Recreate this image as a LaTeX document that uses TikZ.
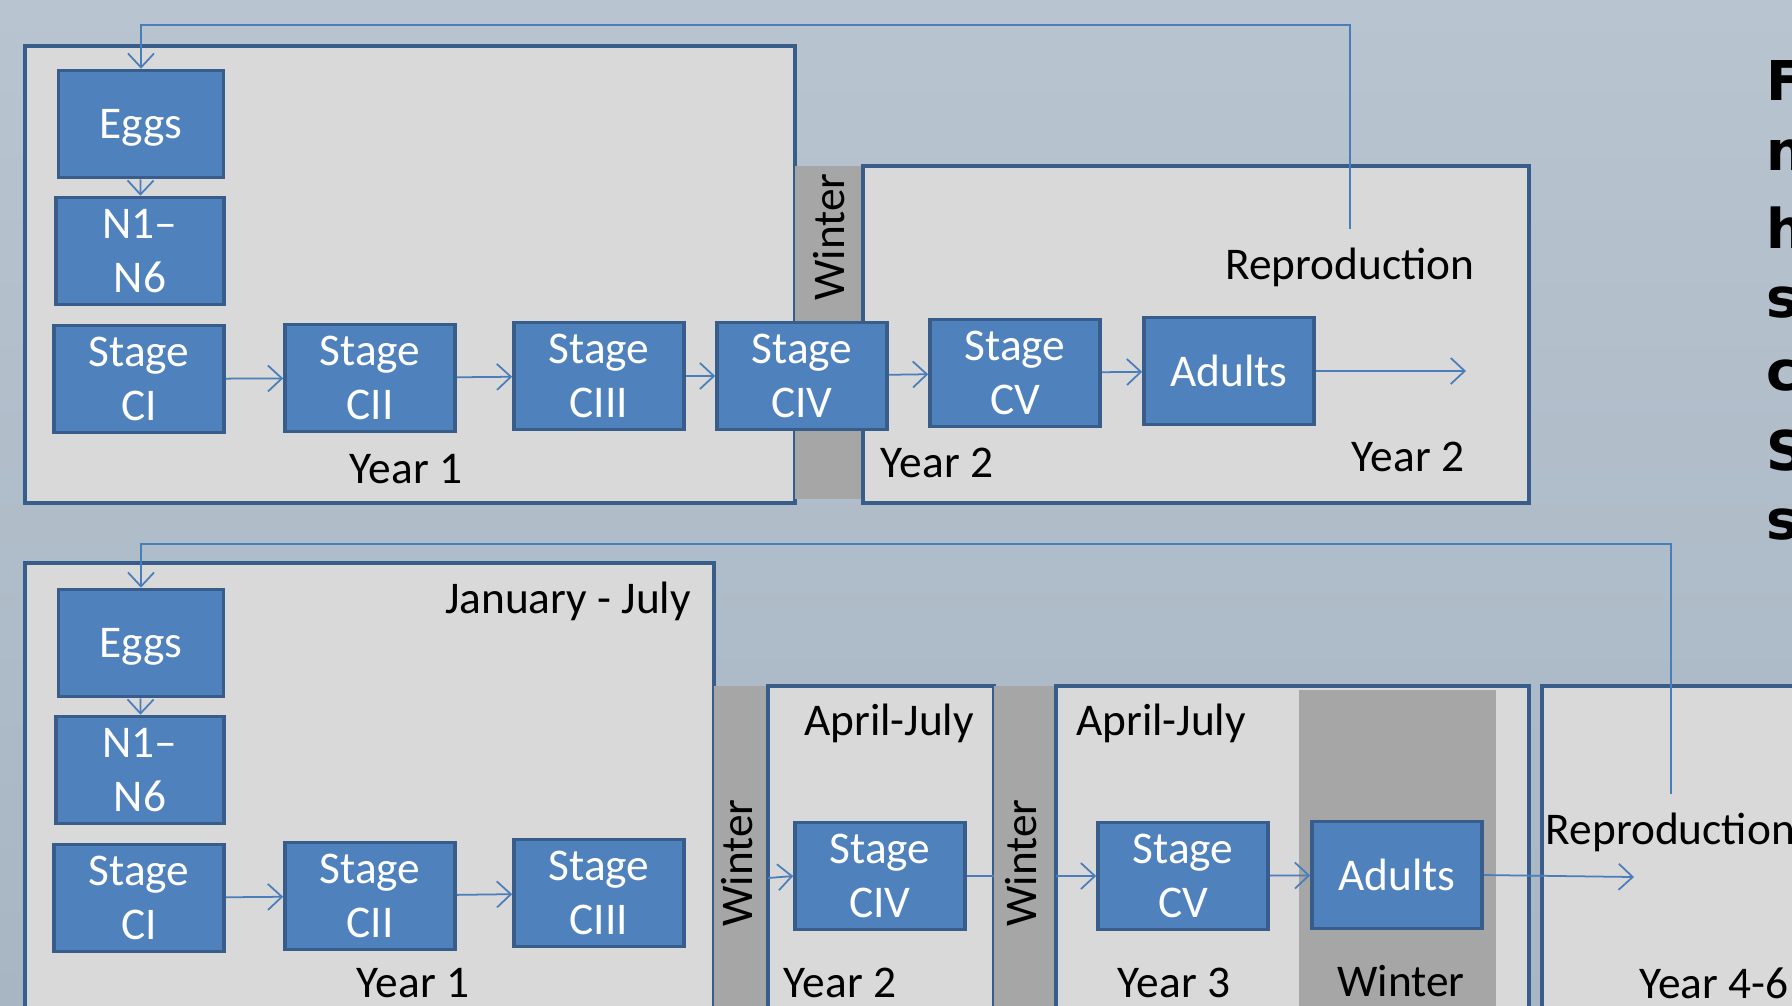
\documentclass[tikz,border=0pt]{standalone}
\usepackage{fontspec}
\setmainfont{Carlito}
\newfontfamily\sidefont{DejaVu Sans}
\usetikzlibrary{arrows.meta}
\definecolor{stageblue}{HTML}{4F81BD}
\definecolor{stageedge}{HTML}{385D8A}
\definecolor{panelgrey}{HTML}{D9D9D9}
\definecolor{wintergrey}{HTML}{A6A6A6}
\definecolor{linkblue}{HTML}{4A7EBB}
\definecolor{skytop}{HTML}{B8C4CF}
\definecolor{skybot}{HTML}{A8B6C4}
\newcommand\boxfont{\fontsize{12.9}{15.4}\selectfont}

\begin{document}
\begin{tikzpicture}[x=0.01cm, y=-0.01cm,
  stagebox/.style={draw=stageedge, line width=1pt, fill=stageblue, text=white,
                   minimum width=1.7cm, minimum height=1.07cm, align=center,
                   inner sep=0pt, font=\boxfont},
  panel/.style={draw=stageedge, line width=1.1pt, fill=panelgrey},
  winterbar/.style={fill=wintergrey},
  lbl/.style={font=\boxfont, inner sep=0pt},
  side/.style={font=\sidefont\bfseries\fontsize{15.6}{18}\selectfont, inner sep=0pt, anchor=west},
  flow/.style={-{Straight Barb[length=1.4mm,width=2.6mm]}, draw=linkblue, line width=0.5pt},
  link/.style={draw=linkblue, line width=0.5pt},
]
  % background
  \fill[top color=skytop, bottom color=skybot] (0,0) rectangle (1792,1005);
  \useasboundingbox (0,0) rectangle (1792,1005);
  \clip (0,0) rectangle (1792,1005);

  % upper scheme: panels
  \draw[panel] (25,46) rectangle (795,503);
  \fill[winterbar] (795,166) rectangle (863,499);
  \draw[panel] (863,166) rectangle (1529,503);

  % lower scheme: panels
  \draw[panel] (25,563) rectangle (714,1030);
  \fill[winterbar] (714,686) rectangle (768,1030);
  \draw[panel] (768,686) rectangle (994,1030);
  \fill[winterbar] (994,686) rectangle (1056,1030);
  \draw[panel] (1056,686) rectangle (1529,1030);
  \fill[winterbar] (1299,690) rectangle (1496,1030);
  \draw[panel] (1542,686) rectangle (1850,1030);

  % upper scheme: stages
  \node[stagebox, minimum width=1.65cm, text depth=0pt] (eggsA) at (141,124) {Eggs};
  \node[stagebox, minimum width=1.68cm] (nauplA) at (140,251) {N1--\\N6};
  \node[stagebox] (ciA) at (139,379) {Stage\\CI};
  \node[stagebox] (ciiA) at (370,378) {Stage\\CII};
  \node[stagebox] (ciiiA) at (599,376) {Stage\\CIII};
  \node[stagebox] (civA) at (802,376) {Stage\\CIV};
  \node[stagebox] (cvA) at (1015,373) {Stage\\CV};
  \node[stagebox] (adultA) at (1229,371) {Adults};

  % lower scheme: stages
  \node[stagebox, minimum width=1.65cm, text depth=0pt] (eggsB) at (141,643) {Eggs};
  \node[stagebox, minimum width=1.68cm] (nauplB) at (140,770) {N1--\\N6};
  \node[stagebox] (ciB) at (139,898) {Stage\\CI};
  \node[stagebox] (ciiB) at (370,896) {Stage\\CII};
  \node[stagebox] (ciiiB) at (599,893) {Stage\\CIII};
  \node[stagebox] (civB) at (880,876) {Stage\\CIV};
  \node[stagebox] (cvB) at (1183,876) {Stage\\CV};
  \node[stagebox] (adultB) at (1397,875) {Adults};

  % texts
  \node[lbl, rotate=90] (winterA) at (829,237) {Winter};
  \node[lbl] (reproLblA) at (1350,267) {Reproduction};
  \node[lbl] (yearA1) at (406,469) {Year 1};
  \node[lbl] (yearA2) at (937,463) {Year 2};
  \node[lbl] (yearA2b) at (1408,457) {Year 2};

  \node[lbl] (janjul) at (568,601) {January - July};
  \node[lbl] (aprjul1) at (889,723) {April-July};
  \node[lbl] (aprjul2) at (1161,723) {April-July};
  \node[lbl, rotate=90] (winterB1) at (737,863) {Winter};
  \node[lbl, rotate=90] (winterB2) at (1021,863) {Winter};
  \node[lbl, anchor=west] (reproLblB) at (1545,832) {Reproduction};
  \node[lbl] (yearB1) at (413,983) {Year 1};
  \node[lbl] (yearB2) at (840,983) {Year 2};
  \node[lbl] (yearB3) at (1174,983) {Year 3};
  \node[lbl] (winterB3) at (1401,981) {Winter};
  \node[lbl] (yearB46) at (1714,983) {Year 4-6};

  % development arrows
  \foreach \a/\b in {eggsA/nauplA, ciA/ciiA, ciiA/ciiiA, ciiiA/civA, civA/cvA, cvA/adultA,
                     eggsB/nauplB, ciB/ciiB, ciiB/ciiiB, cvB/adultB}
    \draw[flow] (\a) -- (\b);

  \coordinate (outA) at (1466,371);
  \draw[flow] (adultA.east) -- (outA);
  \coordinate (reproA) at (1350,229);
  \coordinate (loopA) at (1350,25);
  \draw[flow] (reproA) -- (loopA) -| (eggsA.north);

  \coordinate (wB1out) at (768,878);
  \draw[flow] (wB1out) -- (civB.west);
  \coordinate (wB2in) at (994,876);
  \draw[link] (civB.east) -- (wB2in);
  \coordinate (wB2out) at (1056,876);
  \draw[flow] (wB2out) -- (cvB.west);
  \coordinate (outB) at (1634,877);
  \draw[flow] (adultB.east) -- (outB);
  \coordinate (reproB) at (1671,794);
  \coordinate (loopB) at (1671,544);
  \draw[flow] (reproB) -- (loopB) -| (eggsB.north);

  % cut-off side text
  \foreach \ch/\yy in {F/80, n/155, h/228, s/303, c/376, S/451, s/525}
    \node[side] (side-\yy) at (1766,\yy) {\ch};
\end{tikzpicture}
\end{document}
